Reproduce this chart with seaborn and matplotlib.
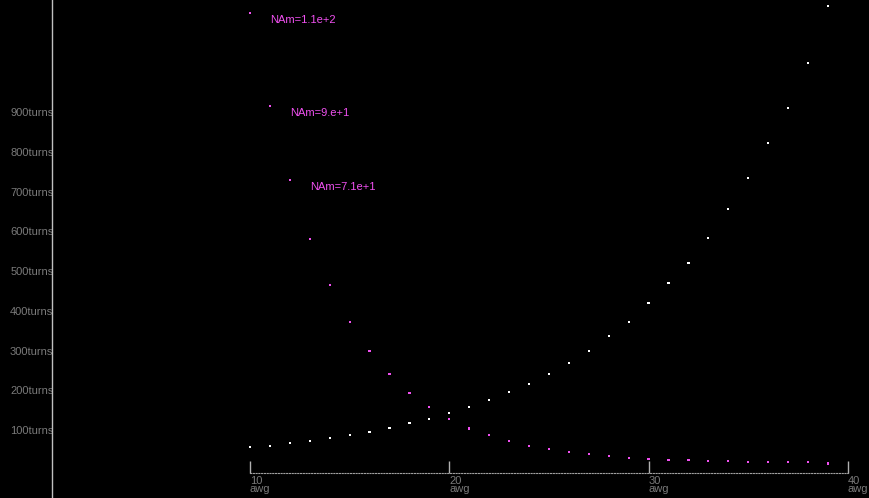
import seaborn as sns
import pandas as pd
import matplotlib.pyplot as plt

sns.set_theme(style="dark")
plt.rcParams['font.family'] = ['Liberation Sans', 'DejaVu Sans']

# wire gauge on x, turns on y
awg = list(range(10, 40))
turns_white = [57, 60, 67, 73, 80, 87, 95, 105, 118, 128,
               143, 158, 175, 196, 216, 241, 268, 299, 336, 372,
               419, 470, 520, 583, 656, 734, 822, 910, 1023, 1167]
turns_magenta = [1149, 915, 729, 580, 465, 371, 298, 240, 193, 157,
                 127, 104, 87, 72, 59, 52, 44, 39, 34, 29,
                 27, 24, 24, 22, 22, 19, 19, 19, 19, 16]
notes = ["NAm=1.1e+2", "NAm=9.e+1", "NAm=7.1e+1"]
yticks = [100, 200, 300, 400, 500, 600, 700, 800, 900]
xticks = [10, 20, 30, 40]

df = pd.DataFrame({
    "awg": awg * 2,
    "turns": turns_white + turns_magenta,
    "series": ["a"] * len(awg) + ["b"] * len(awg),
})

fig = plt.figure(figsize=(8.69, 4.98), dpi=100, facecolor="black")
ax = fig.add_axes([0, 0, 1, 1])
ax.set_facecolor("black")

sns.scatterplot(data=df, x="awg", y="turns", hue="series",
                palette={"a": "#ffffff", "b": "#f050f0"},
                marker="s", s=2.5, linewidth=0, legend=False, ax=ax)

for i, txt in enumerate(notes):
    ax.annotate(txt, (awg[i], turns_magenta[i]), xytext=(14.4, -4.8),
                textcoords="offset points", color="#f050f0",
                fontsize=8, ha="left", va="center")

ax.set_xlim(-2.544, 41.06)
ax.set_ylim(-71, 1182)
ax.grid(False)

for s in ["top", "right"]:
    ax.spines[s].set_visible(False)
ax.spines["left"].set_position(("data", 0.065))
ax.spines["left"].set_color("#c0c0c0")
ax.spines["left"].set_linewidth(1)
ax.spines["bottom"].set_position(("data", -8.2))
ax.spines["bottom"].set_bounds(10, 40)
ax.spines["bottom"].set_color("#a0a0a0")
ax.spines["bottom"].set_linestyle((0, (1, 1.5)))
ax.spines["bottom"].set_linewidth(0.8)

ax.set_yticks(yticks)
ax.set_yticklabels([f"{v}turns" for v in yticks])
ax.set_xticks(xticks)
ax.set_xticklabels([f"{v}\nawg" for v in xticks])
ax.tick_params(axis="y", left=True, length=0, pad=-1, colors="#7a7a7a", labelsize=8)
ax.tick_params(axis="x", bottom=True, direction="in", length=8.6, width=1,
               color="#b0b0b0", labelcolor="#7a7a7a", labelsize=8, pad=2)
for lab in ax.get_xticklabels():
    lab.set_horizontalalignment("left")
    lab.set_linespacing(0.8)
ax.set_xlabel("")
ax.set_ylabel("")

fig.savefig("out.png", dpi=100, facecolor="black")
